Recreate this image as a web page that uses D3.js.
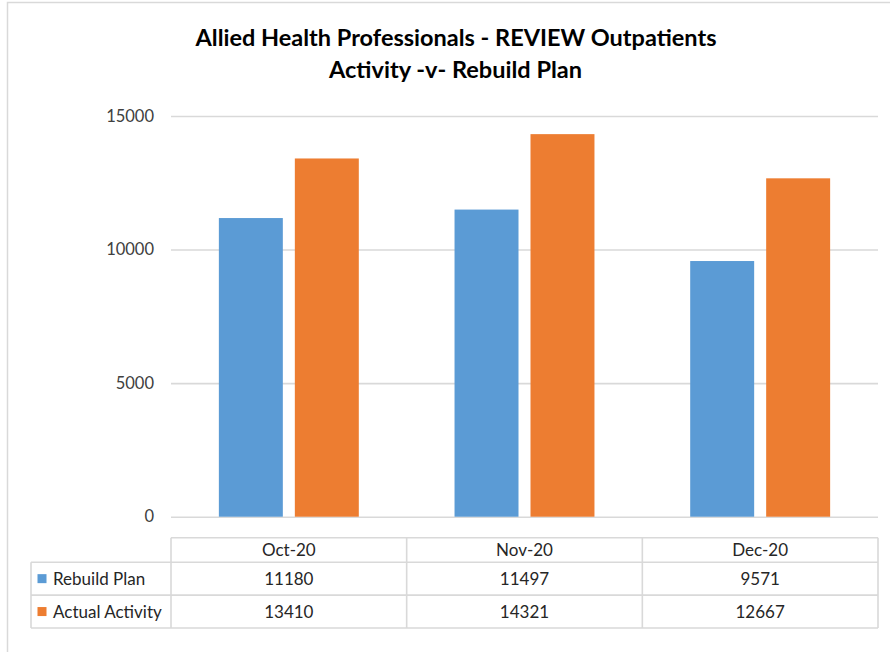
<!DOCTYPE html>
<html>
<head>
<meta charset="utf-8">
<script src="https://cdn.jsdelivr.net/npm/d3@7"></script>
<style>
  html, body { margin: 0; padding: 0; background: #fff; }
  svg { display: block; font-family: Lato, "Open Sans", sans-serif; }
</style>
</head>
<body>
<svg id="chart" width="890" height="652"></svg>
<script>
// Data
const titleLines = ["Allied Health Professionals - REVIEW Outpatients", "Activity -v- Rebuild Plan"];
const months = ["Oct-20", "Nov-20", "Dec-20"];
const seriesNames = ["Rebuild Plan", "Actual Activity"];
const rebuildPlan = [11180, 11497, 9571];
const actualActivity = [13410, 14321, 12667];
const yTicks = [0, 5000, 10000, 15000];
const seriesColors = ["#5B9BD5", "#ED7D31"];

const seriesValues = [rebuildPlan, actualActivity];

const svg = d3.select("#chart");
const W = 890, H = 652;

// Chart frame (area border)
svg.append("path")
  .attr("d", `M7.5,${H} L7.5,2.5 L${W},2.5`)
  .attr("fill", "none").attr("stroke", "#D9D9D9").attr("stroke-width", 1.5);

// Title
const title = svg.append("g").attr("font-weight", 700).attr("fill", "#000")
  .attr("font-size", 22.5).attr("text-anchor", "middle");
title.append("text").attr("x", 456).attr("y", 45.5)
  .attr("textLength", 521).attr("lengthAdjust", "spacingAndGlyphs").text(titleLines[0]);
title.append("text").attr("x", 455.5).attr("y", 77.5)
  .attr("textLength", 253).attr("lengthAdjust", "spacingAndGlyphs").text(titleLines[1]);

// Scales
const plotLeft = 171, plotRight = 878;
const x = d3.scaleBand().domain(months).range([plotLeft, plotRight]).padding(0);
const xs = d3.scaleBand().domain(seriesNames).range([0, x.bandwidth()])
  .paddingInner(0.158).paddingOuter(0.63);
const y = d3.scaleLinear().domain([0, 15000]).range([516.7, 116]);

// Gridlines + y labels
const yAxis = d3.axisLeft(y).tickValues(yTicks).tickSize(-(plotRight - plotLeft)).tickPadding(17)
  .tickFormat(d3.format("d"));
const gy = svg.append("g").attr("transform", `translate(${plotLeft},0)`).call(yAxis);
gy.select(".domain").remove();
gy.selectAll(".tick line").attr("stroke", "#D9D9D9").attr("stroke-width", 1.6);
gy.selectAll(".tick text").attr("font-size", 16.5).attr("fill", "#404040")
  .attr("font-family", "Lato, sans-serif");

// Bars
const groups = svg.append("g").selectAll("g")
  .data(months).join("g")
  .attr("transform", d => `translate(${x(d)},0)`);
groups.selectAll("rect")
  .data((m, i) => seriesNames.map((s, j) => ({ s, v: seriesValues[j][i], c: seriesColors[j] })))
  .join("rect")
  .attr("x", d => xs(d.s))
  .attr("width", xs.bandwidth())
  .attr("y", d => y(d.v))
  .attr("height", d => y(0) - y(d.v))
  .attr("fill", d => d.c);

// Data table
const tableTop = 537.7, headerBottom = 562.2, rowH = 32.9, tableLeft = 31;
const rowsBottom = headerBottom + rowH * seriesNames.length;
const grid = svg.append("g").attr("stroke", "#D9D9D9").attr("stroke-width", 1.6).attr("fill", "none");
grid.append("line").attr("x1", plotLeft).attr("x2", plotRight).attr("y1", tableTop).attr("y2", tableTop);
[0, 1, 2].forEach(i => {
  const yy = headerBottom + rowH * i;
  grid.append("line").attr("x1", tableLeft).attr("x2", plotRight).attr("y1", yy).attr("y2", yy);
});
grid.append("line").attr("x1", tableLeft).attr("x2", tableLeft).attr("y1", headerBottom).attr("y2", rowsBottom);
grid.append("line").attr("x1", plotLeft).attr("x2", plotLeft).attr("y1", tableTop).attr("y2", rowsBottom);
months.forEach(m => {
  const xx = x(m) + x.bandwidth();
  grid.append("line").attr("x1", xx).attr("x2", xx).attr("y1", tableTop).attr("y2", rowsBottom);
});

const tt = svg.append("g").attr("font-size", 17).attr("fill", "#262626");
// Column headers
tt.selectAll("text.head").data(months).join("text")
  .attr("class", "head")
  .attr("x", d => x(d) + x.bandwidth() / 2)
  .attr("y", 556)
  .attr("text-anchor", "middle")
  .text(d => d);
// Legend cells
seriesNames.forEach((s, j) => {
  const cy = headerBottom + rowH * j + rowH / 2;
  svg.append("rect").attr("x", 37.5).attr("y", cy - 4.5).attr("width", 9).attr("height", 9)
    .attr("fill", seriesColors[j]);
  tt.append("text").attr("x", 53).attr("y", cy + 6).text(s);
  tt.selectAll(null).data(seriesValues[j]).join("text")
    .attr("x", (d, i) => x(months[i]) + x.bandwidth() / 2)
    .attr("y", cy + 6)
    .attr("text-anchor", "middle")
    .text(d => d);
});
</script>
</body>
</html>
